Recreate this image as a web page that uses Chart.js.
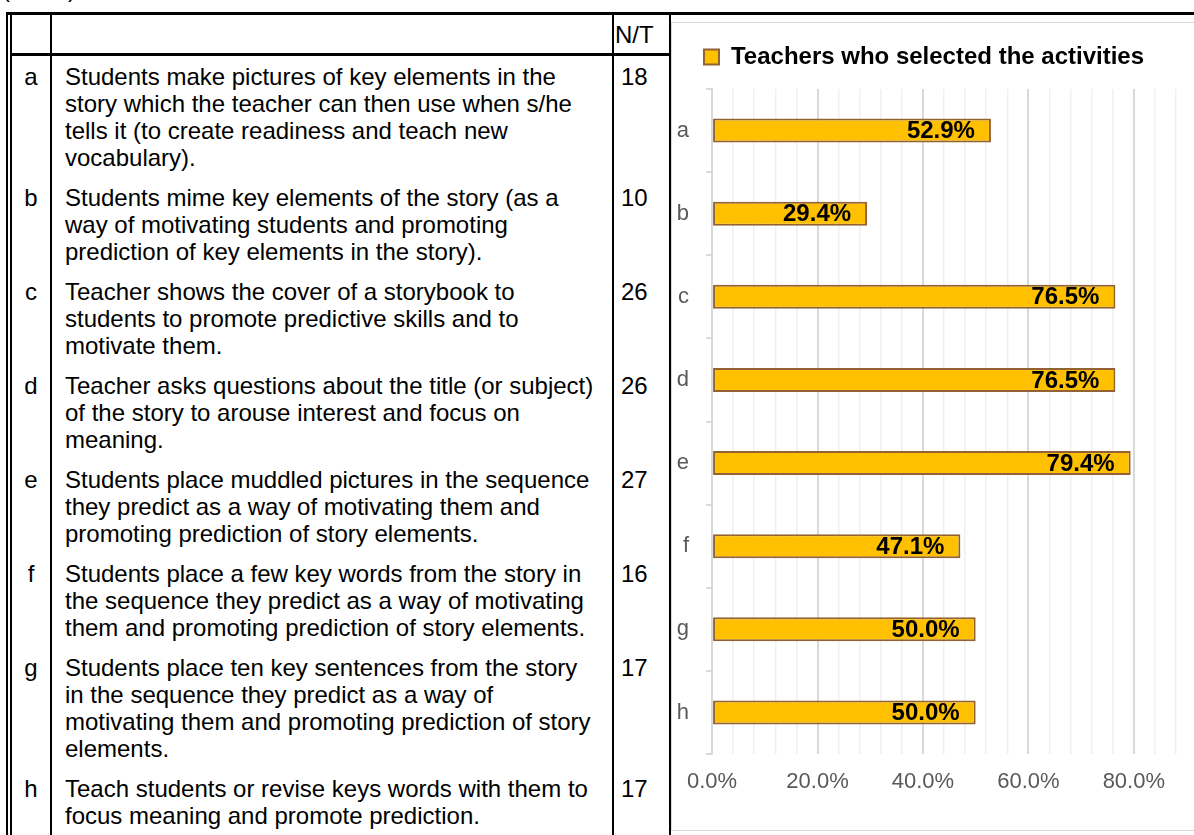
<!DOCTYPE html>
<html>
<head>
<meta charset="utf-8">
<script src="https://cdn.jsdelivr.net/npm/chart.js@4"></script>
<style>
    html, body { margin: 0; padding: 0; background: #fff; overflow: hidden; }
    body { width: 1194px; height: 835px; position: relative; font-family: 'Liberation Sans', Arial, sans-serif; }
    #cut { position: absolute; left: 2px; top: -25px; font-size: 24px; line-height: 27px; }
    #topLine { position: absolute; left: 6px; top: 12px; width: 1200px; height: 3px; background: #000; }
    #dblLine { position: absolute; left: 6px; top: 12px; height: 840px; border-left: 6px double #000; }
    #tbl { position: absolute; left: 12px; top: 15px; border-collapse: separate; border-spacing: 0; table-layout: fixed; font-size: 24px; line-height: 27px; color: #000; }
    #tbl td { box-sizing: border-box; border-right: 2px solid #000; vertical-align: top; padding: 7px 0 6px 0; white-space: nowrap; }
    #tbl tr.head td { height: 41px; border-bottom: 3px solid #000; vertical-align: middle; padding: 0; }
    #tbl td.letter { text-align: center; }
    #tbl td.desc { padding-left: 13px; }
    #tbl td.num { padding-left: 7px; }
    #tbl tr.head td.num { padding-left: 1px; }
    #tbl tr.last td { padding-bottom: 60px; }
    #chartBox { position: absolute; left: 671px; top: 22px; width: 522px; height: 807px; border: 1px solid #d9d9d9; border-right: none; background: #fff; }
</style>
</head>
<body>
<div id="cut">(N=34)</div>
<div id="topLine"></div>
<div id="dblLine"></div>
<table id="tbl">
    <colgroup><col style="width:40px"><col style="width:562px"><col style="width:57px"></colgroup>
    <tbody id="tblBody">
        <tr class="head"><td class="letter"></td><td class="desc"></td><td class="num">N/T</td></tr>
    </tbody>
</table>
<div id="chartBox"><canvas id="activityChart"></canvas></div>

<script>
// Activity letters (chart categories)
const rowLetters = ['a', 'b', 'c', 'd', 'e', 'f', 'g', 'h'];

// Activity descriptions, one entry per printed line
const activityLines = [
    ['Students make pictures of key elements in the', 'story which the teacher can then use when s/he', 'tells it (to create readiness and teach new', 'vocabulary).'],
    ['Students mime key elements of the story (as a', 'way of motivating students and promoting', 'prediction of key elements in the story).'],
    ['Teacher shows the cover of a storybook to', 'students to promote predictive skills and to', 'motivate them.'],
    ['Teacher asks questions about the title (or subject)', 'of the story to arouse interest and focus on', 'meaning.'],
    ['Students place muddled pictures in the sequence', 'they predict as a way of motivating them and', 'promoting prediction of story elements.'],
    ['Students place a few key words from the story in', 'the sequence they predict as a way of motivating', 'them and promoting prediction of story elements.'],
    ['Students place ten key sentences from the story', 'in the sequence they predict as a way of', 'motivating them and promoting prediction of story', 'elements.'],
    ['Teach students or revise keys words with them to', 'focus meaning and promote prediction.']
];

// Number of teachers (N/T) per activity
const teacherCounts = [18, 10, 26, 26, 27, 16, 17, 17];

// Percentage of teachers who selected each activity
const selectedPct = [52.9, 29.4, 76.5, 76.5, 79.4, 47.1, 50.0, 50.0];

// Labelled x ticks
const labelledTicks = [0, 20, 40, 60, 80];

const seriesName = 'Teachers who selected the activities';

document.addEventListener('DOMContentLoaded', function() {
    // Build the table rows
    const body = document.getElementById('tblBody');
    rowLetters.forEach((letter, i) => {
        const tr = document.createElement('tr');
        if (i === rowLetters.length - 1) tr.className = 'last';
        const c1 = document.createElement('td');
        c1.className = 'letter';
        c1.textContent = letter;
        const c2 = document.createElement('td');
        c2.className = 'desc';
        c2.innerHTML = activityLines[i].join('<br>');
        const c3 = document.createElement('td');
        c3.className = 'num';
        c3.textContent = teacherCounts[i];
        tr.appendChild(c1);
        tr.appendChild(c2);
        tr.appendChild(c3);
        body.appendChild(tr);
    });

    Chart.defaults.font.family = "'Liberation Sans', Arial, sans-serif";

    // value labels drawn at the inner end of each bar
    const barValueLabels = {
        id: 'barValueLabels',
        afterDatasetsDraw(chart) {
            const ctx = chart.ctx;
            const meta = chart.getDatasetMeta(0);
            ctx.save();
            ctx.font = "bold 24px 'Liberation Sans', Arial, sans-serif";
            ctx.fillStyle = '#000';
            ctx.textAlign = 'right';
            ctx.textBaseline = 'middle';
            meta.data.forEach((bar, i) => {
                const v = chart.data.datasets[0].data[i];
                ctx.fillText(v.toFixed(1) + '%', bar.x - 16, bar.y + 1);
            });
            ctx.restore();
        }
    };

    // extra space below the legend
    const legendGap = {
        id: 'legendGap',
        beforeInit(chart) {
            const fitLegend = chart.legend.fit;
            chart.legend.fit = function() {
                fitLegend.bind(chart.legend)();
                this.height += 10;
            };
        }
    };

    const ctx = document.getElementById('activityChart').getContext('2d');
    const activityChart = new Chart(ctx, {
        type: 'bar',
        data: {
            labels: rowLetters,
            datasets: [{
                label: seriesName,
                data: selectedPct,
                backgroundColor: '#FFC000',
                borderColor: '#926232',
                borderWidth: 2,
                borderSkipped: false,
                barPercentage: 0.29,
                categoryPercentage: 1.0
            }]
        },
        options: {
            indexAxis: 'y',
            responsive: true,
            maintainAspectRatio: false,
            animation: false,
            layout: {
                padding: { top: 0, right: 18, bottom: 0, left: 0 }
            },
            plugins: {
                tooltip: { enabled: false },
                legend: {
                    position: 'top',
                    labels: {
                        boxWidth: 15,
                        boxHeight: 15,
                        padding: 22,
                        color: '#000',
                        font: { size: 24, weight: 'bold' }
                    }
                }
            },
            scales: {
                x: {
                    min: 0,
                    max: 88,
                    afterFit: function(scale) { scale.height = 76; },
                    ticks: {
                        stepSize: 4,
                        autoSkip: false,
                        maxRotation: 0,
                        padding: 15,
                        color: '#595959',
                        font: { size: 22 },
                        callback: function(value) {
                            return labelledTicks.includes(value) ? value.toFixed(1) + '%' : '';
                        }
                    },
                    grid: {
                        drawTicks: false,
                        color: function(c) {
                            return c.tick && c.tick.value % 20 === 0 ? '#d9d9d9' : '#efefef';
                        },
                        lineWidth: function(c) {
                            return c.tick && c.tick.value % 20 === 0 ? 2 : 1.5;
                        }
                    },
                    border: { display: false }
                },
                y: {
                    afterFit: function(scale) { scale.width = 38; },
                    ticks: {
                        padding: 17,
                        color: '#595959',
                        font: { size: 22 }
                    },
                    grid: {
                        offset: true,
                        drawOnChartArea: false,
                        drawTicks: true,
                        tickLength: 6,
                        color: '#d9d9d9',
                        lineWidth: 2
                    },
                    border: { display: true, color: '#d9d9d9', width: 2 }
                }
            }
        },
        plugins: [barValueLabels, legendGap]
    });
});
</script>
</body>
</html>
